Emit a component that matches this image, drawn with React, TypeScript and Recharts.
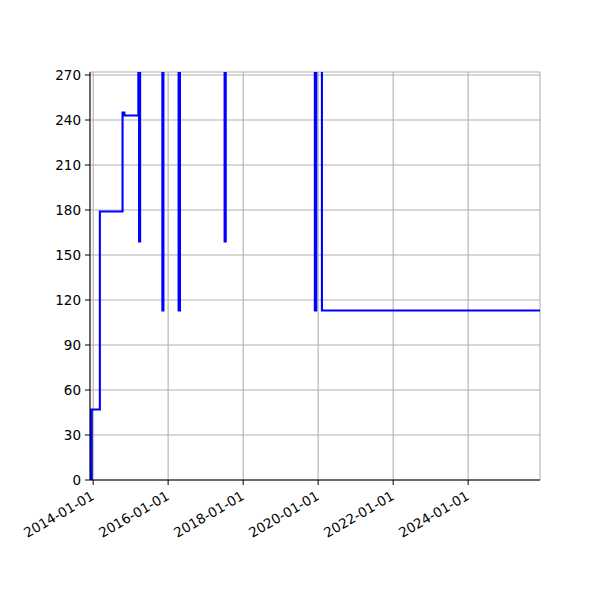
import React from 'react';
import { LineChart, Line, XAxis, YAxis, CartesianGrid } from 'recharts';

// step dates (UTC) and the value that starts on each date; 300 means off the top of the plot
const DATES = [
    '2013-12-01', '2013-12-08', '2013-12-13', '2013-12-18', '2014-03-07',
    '2014-10-14', '2014-11-01', '2015-03-17', '2015-03-24', '2015-04-03',
    '2015-11-06', '2015-11-16', '2016-04-12', '2016-04-25', '2017-07-04',
    '2017-07-15', '2019-11-30', '2019-12-14', '2020-02-07', '2025-12-01'
];
const VALUES = [
    0, 47, 0, 47, 179,
    245, 243, 300, 159, 300,
    113, 300, 113, 300, 159,
    300, 113, 300, 113, 113
];
const X_TICKS = ['2014-01-01', '2016-01-01', '2018-01-01', '2020-01-01', '2022-01-01', '2024-01-01'];
const Y_TICKS = [0, 30, 60, 90, 120, 150, 180, 210, 240, 270];

const toTime = (s: string) => Date.parse(s + 'T00:00:00Z');
const X_DOMAIN = [toTime('2013-12-01'), toTime('2025-12-01')];
const Y_DOMAIN = [0, 272];

const FONT = 'DejaVu Sans';
const FONT_SIZE = 13.5;

const data = DATES.map((d, i) => ({ t: toTime(d), v: VALUES[i] }));

const fmtDate = (t: number) => new Date(t).toISOString().slice(0, 10);

const XTick = ({ x, y, payload }: any) => (
    <g transform={`translate(${x - 3},${y})`}>
        <text
            transform="rotate(-30)"
            textAnchor="end"
            dy="0.75em"
            fontFamily={FONT}
            fontSize={FONT_SIZE}
            fill="#000"
        >
            {fmtDate(payload.value)}
        </text>
    </g>
);

export default function App() {
    return (
        <div style={{ position: 'absolute', left: 0, top: 0, width: 600, height: 600, background: '#fff' }}>
            <LineChart
                width={600}
                height={600}
                data={data}
                margin={{ top: 72, right: 60, bottom: 0, left: 0 }}
            >
                <CartesianGrid stroke="#b0b0b0" strokeWidth={1.1} />
                <XAxis
                    dataKey="t"
                    type="number"
                    scale="time"
                    domain={X_DOMAIN}
                    ticks={X_TICKS.map(toTime)}
                    interval={0}
                    allowDataOverflow
                    height={120}
                    stroke="#000"
                    tickSize={5}
                    tickMargin={5}
                    tick={<XTick />}
                />
                <XAxis
                    xAxisId="top"
                    dataKey="t"
                    type="number"
                    orientation="top"
                    domain={X_DOMAIN}
                    allowDataOverflow
                    height={0}
                    stroke="#000"
                    tick={false}
                    tickLine={false}
                />
                <YAxis
                    type="number"
                    domain={Y_DOMAIN}
                    ticks={Y_TICKS}
                    interval={0}
                    allowDataOverflow
                    width={90}
                    stroke="#000"
                    tickSize={5}
                    tickMargin={4}
                    tick={{ fontFamily: FONT, fontSize: FONT_SIZE, fill: '#000' }}
                />
                <YAxis
                    yAxisId="right"
                    type="number"
                    orientation="right"
                    domain={Y_DOMAIN}
                    allowDataOverflow
                    width={0}
                    stroke="#000"
                    tick={false}
                    tickLine={false}
                />
                <Line
                    dataKey="v"
                    type="stepAfter"
                    stroke="#0000ff"
                    strokeWidth={2.1}
                    dot={false}
                    isAnimationActive={false}
                />
            </LineChart>
        </div>
    );
}
